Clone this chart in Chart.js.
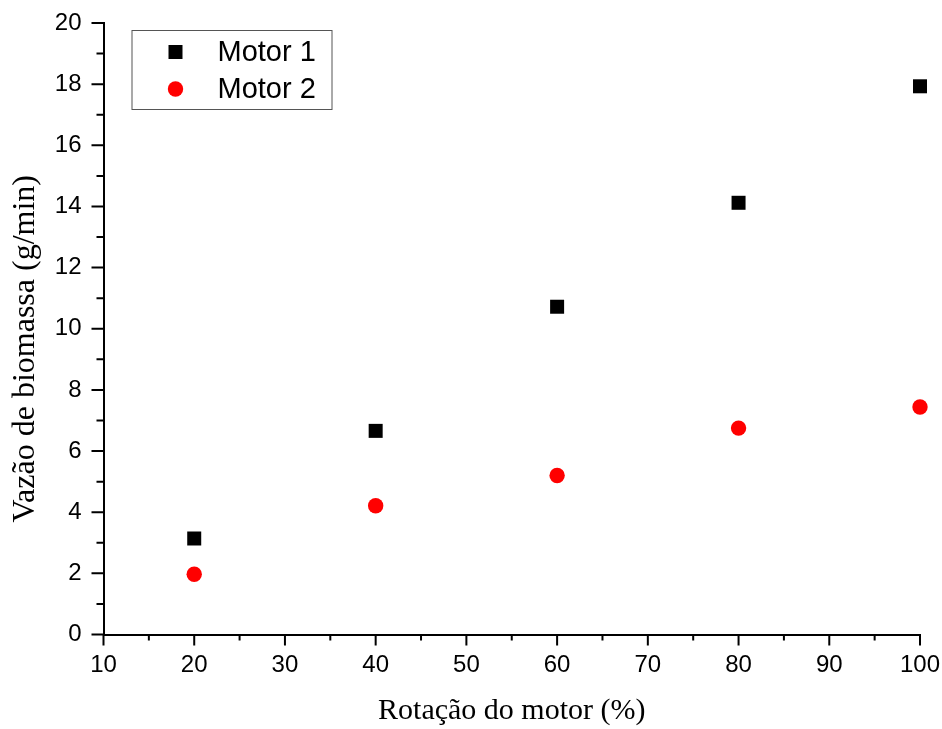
<!DOCTYPE html>
<html>
<head>
    <meta charset="UTF-8">
    <script src="https://cdn.jsdelivr.net/npm/chart.js@4.4.1/dist/chart.umd.min.js"></script>
    <style>
        body {
            margin: 0;
            background: white;
        }
        #wrap {
            width: 942px;
            height: 729px;
        }
    </style>
</head>
<body>
    <div id="wrap">
        <canvas id="flowChart" width="942" height="729"></canvas>
    </div>

    <script>
        // data
        const rotation = [20, 40, 60, 80, 100];
        const motor1 = [3.14, 6.66, 10.72, 14.12, 17.93];
        const motor2 = [1.97, 4.21, 5.20, 6.75, 7.44];
        const seriesNames = ['Motor 1', 'Motor 2'];

        // axis ranges / tick steps
        const xRange = [10, 100];
        const yRange = [0, 20];
        const xStep = 10, xMinor = 5;
        const yStep = 2, yMinor = 1;
        const yTitle = 'Vazão de biomassa (g/min)';

        const toPoints = (vals) => rotation.map((x, i) => ({ x: x, y: vals[i] }));

        // Origin-style outward ticks, major + minor
        const axisTicks = {
            id: 'axisTicks',
            afterDraw(chart) {
                const ctx = chart.ctx;
                const xs = chart.scales.x, ys = chart.scales.y;
                ctx.save();
                ctx.strokeStyle = '#000';
                ctx.lineWidth = 2;
                ctx.beginPath();
                for (let v = xRange[0]; v <= xRange[1] + 1e-9; v += xMinor) {
                    const px = xs.getPixelForValue(v);
                    const len = (Math.round(v) % xStep === 0) ? 11 : 6;
                    ctx.moveTo(px, ys.bottom);
                    ctx.lineTo(px, ys.bottom + len);
                }
                for (let v = yRange[0]; v <= yRange[1] + 1e-9; v += yMinor) {
                    const py = ys.getPixelForValue(v);
                    const len = (Math.round(v) % yStep === 0) ? 12 : 7;
                    ctx.moveTo(xs.left, py);
                    ctx.lineTo(xs.left - len, py);
                }
                ctx.stroke();

                // y title, sits a bit below the axis middle in the original
                const area = chart.chartArea;
                ctx.translate(26, (area.top + area.bottom) / 2 + 20);
                ctx.rotate(-Math.PI / 2);
                ctx.fillStyle = '#000';
                ctx.font = '32px "Liberation Serif", "Times New Roman", serif';
                ctx.textAlign = 'center';
                ctx.textBaseline = 'middle';
                ctx.fillText(yTitle, 0, 0);
                ctx.restore();
            }
        };

        // boxed legend in the upper left like the original
        const boxLegend = {
            id: 'boxLegend',
            afterDraw(chart) {
                const ctx = chart.ctx;
                const area = chart.chartArea;
                const bx = area.left + 28, by = area.top + 7;
                const bw = 200, bh = 79;
                ctx.save();
                ctx.strokeStyle = '#555';
                ctx.lineWidth = 1;
                ctx.strokeRect(bx + 0.5, by + 0.5, bw, bh);
                ctx.font = '29px "Liberation Sans", Arial, sans-serif';
                ctx.textBaseline = 'middle';
                ctx.textAlign = 'left';
                chart.data.datasets.forEach((ds, i) => {
                    const cy = by + 22 + i * 37;
                    ctx.fillStyle = ds.backgroundColor;
                    Chart.helpers.drawPoint(ctx, {
                        pointStyle: ds.pointStyle,
                        radius: ds.pointRadius,
                        rotation: 0,
                        borderWidth: 0
                    }, bx + 44, cy);
                    ctx.fillStyle = '#000';
                    ctx.fillText(ds.label, bx + 86, cy + 1);
                });
                ctx.restore();
            }
        };

        const ctx = document.getElementById('flowChart').getContext('2d');

        new Chart(ctx, {
            type: 'scatter',
            data: {
                datasets: [
                    {
                        label: seriesNames[0],
                        data: toPoints(motor1),
                        pointStyle: 'rect',
                        pointRadius: 9.9,
                        pointHoverRadius: 9.9,
                        backgroundColor: '#000000',
                        borderWidth: 0,
                        clip: false
                    },
                    {
                        label: seriesNames[1],
                        data: toPoints(motor2),
                        pointStyle: 'circle',
                        pointRadius: 7.7,
                        pointHoverRadius: 7.7,
                        backgroundColor: '#ff0000',
                        borderWidth: 0,
                        clip: false
                    }
                ]
            },
            options: {
                responsive: false,
                animation: false,
                layout: {
                    padding: { left: 0, right: 22, top: 23, bottom: 0 }
                },
                plugins: {
                    legend: { display: false },
                    tooltip: { enabled: false }
                },
                scales: {
                    x: {
                        type: 'linear',
                        min: xRange[0],
                        max: xRange[1],
                        grid: { display: false, drawTicks: false },
                        border: { display: true, color: '#000', width: 2 },
                        ticks: {
                            stepSize: xStep,
                            padding: 16,
                            color: '#000',
                            font: { family: '"Liberation Sans", Arial, sans-serif', size: 24 }
                        },
                        title: {
                            display: true,
                            text: 'Rotação do motor (%)',
                            color: '#000',
                            padding: { top: 0, bottom: 0 },
                            font: { family: '"Liberation Serif", "Times New Roman", serif', size: 30 }
                        },
                        afterFit(scale) {
                            scale.height = 94.5;
                            scale.paddingLeft = 0;
                            scale.paddingRight = 0;
                        }
                    },
                    y: {
                        min: yRange[0],
                        max: yRange[1],
                        grid: { display: false, drawTicks: false },
                        border: { display: true, color: '#000', width: 2 },
                        ticks: {
                            stepSize: yStep,
                            padding: 22,
                            color: '#000',
                            font: { family: '"Liberation Sans", Arial, sans-serif', size: 24 }
                        },
                        title: { display: false },
                        afterFit(scale) {
                            scale.width = 103.5;
                            scale.paddingTop = 0;
                            scale.paddingBottom = 0;
                        }
                    }
                }
            },
            plugins: [axisTicks, boxLegend]
        });
    </script>
</body>
</html>
